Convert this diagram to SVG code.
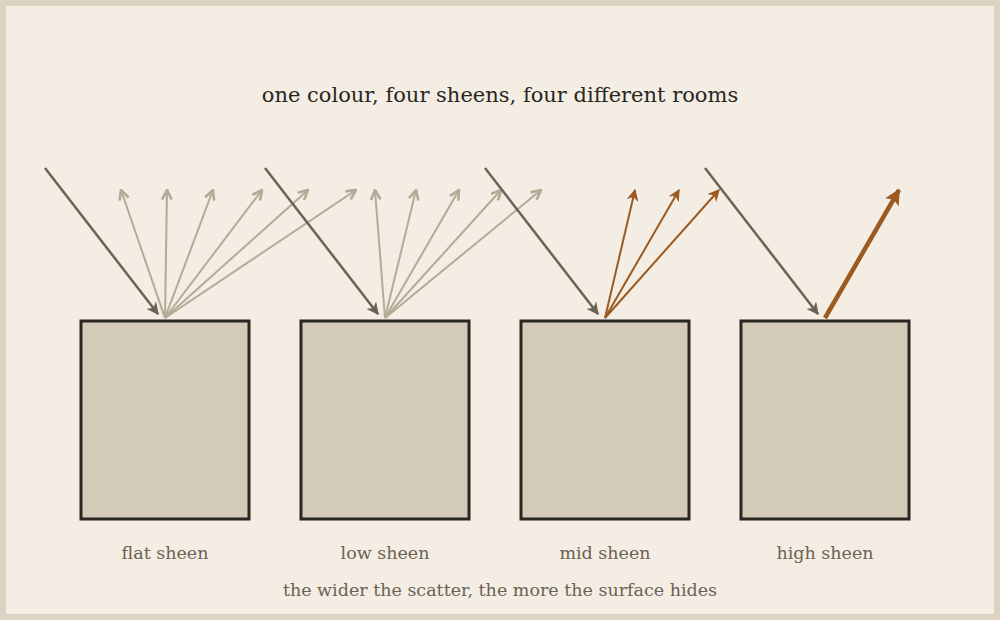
<svg xmlns="http://www.w3.org/2000/svg" width="1000" height="620" viewBox="0 0 1000 620">
<style>
.box{fill:#d3cbb8;stroke:#2a2722;stroke-width:3}
.inc{stroke:#6b6254;stroke-width:2.5;fill:none;marker-end:url(#mInc)}
.sc{stroke:#b5aa96;stroke-width:2;fill:none;marker-end:url(#mSc)}
.mid{stroke:#9a5a22;stroke-width:2;fill:none;marker-end:url(#mMid)}
.hi{stroke:#9a5a22;stroke-width:4.5;fill:none;marker-end:url(#mHi)}
.lbl{font-family:"DejaVu Serif","Liberation Serif",serif;font-size:17.5px;fill:#6b6254;text-anchor:middle}
.title{font-family:"DejaVu Serif","Liberation Serif",serif;font-size:21px;fill:#2a2722;text-anchor:middle}
</style>
<defs>
<marker id="mInc" viewBox="0 0 10 10" refX="9" refY="5" markerWidth="5" markerHeight="5" orient="auto" markerUnits="strokeWidth"><path d="M0,0 L10,5 L0,10 L3,5 z" fill="#6b6254"/></marker>
<marker id="mSc" viewBox="0 0 10 10" refX="9" refY="5" markerWidth="6" markerHeight="6" orient="auto" markerUnits="strokeWidth"><path d="M1,1 L9,5 L1,9" fill="none" stroke="#b5aa96" stroke-width="2.2"/></marker>
<marker id="mMid" viewBox="0 0 10 10" refX="9" refY="5" markerWidth="6" markerHeight="6" orient="auto" markerUnits="strokeWidth"><path d="M0,0 L10,5 L0,10 L3,5 z" fill="#9a5a22"/></marker>
<marker id="mHi" viewBox="0 0 10 10" refX="9" refY="5" markerWidth="3.5" markerHeight="3.5" orient="auto" markerUnits="strokeWidth"><path d="M0,0 L10,5 L0,10 L2,5 z" fill="#9a5a22"/></marker>
</defs>
<rect x="0" y="0" width="1000" height="620" fill="#dcd3c2"/>
<rect x="6" y="6" width="988" height="608" fill="#f3ede3"/>
<text class="title" x="500" y="102">one colour, four sheens, four different rooms</text>
<g id="flat">
<rect class="box" x="81" y="321" width="168" height="198"/>
<text class="lbl" x="165" y="559">flat sheen</text>
</g>
<g id="low">
<rect class="box" x="301" y="321" width="168" height="198"/>
<text class="lbl" x="385" y="559">low sheen</text>
</g>
<g id="midg">
<rect class="box" x="521" y="321" width="168" height="198"/>
<text class="lbl" x="605" y="559">mid sheen</text>
</g>
<g id="high">
<rect class="box" x="741" y="321" width="168" height="198"/>
<text class="lbl" x="825" y="559">high sheen</text>
</g>
<g id="connectors">
<line class="sc" x1="165" y1="318" x2="121" y2="190"/>
<line class="sc" x1="165" y1="318" x2="167" y2="190"/>
<line class="sc" x1="165" y1="318" x2="213" y2="190"/>
<line class="sc" x1="165" y1="318" x2="262" y2="190"/>
<line class="sc" x1="165" y1="318" x2="308" y2="190"/>
<line class="sc" x1="165" y1="318" x2="356" y2="190"/>
<line class="inc" x1="45" y1="168" x2="158" y2="314"/>
<line class="sc" x1="385" y1="318" x2="375" y2="190"/>
<line class="sc" x1="385" y1="318" x2="416" y2="190"/>
<line class="sc" x1="385" y1="318" x2="459" y2="190"/>
<line class="sc" x1="385" y1="318" x2="501" y2="190"/>
<line class="sc" x1="385" y1="318" x2="541" y2="190"/>
<line class="inc" x1="265" y1="168" x2="378" y2="314"/>
<line class="mid" x1="605" y1="318" x2="635" y2="190"/>
<line class="mid" x1="605" y1="318" x2="679" y2="190"/>
<line class="mid" x1="605" y1="318" x2="719" y2="190"/>
<line class="inc" x1="485" y1="168" x2="598" y2="314"/>
<line class="inc" x1="705" y1="168" x2="818" y2="314"/>
<line class="hi" x1="825" y1="318" x2="899" y2="190"/>
</g>
<text class="lbl" x="500" y="596">the wider the scatter, the more the surface hides</text>
</svg>
